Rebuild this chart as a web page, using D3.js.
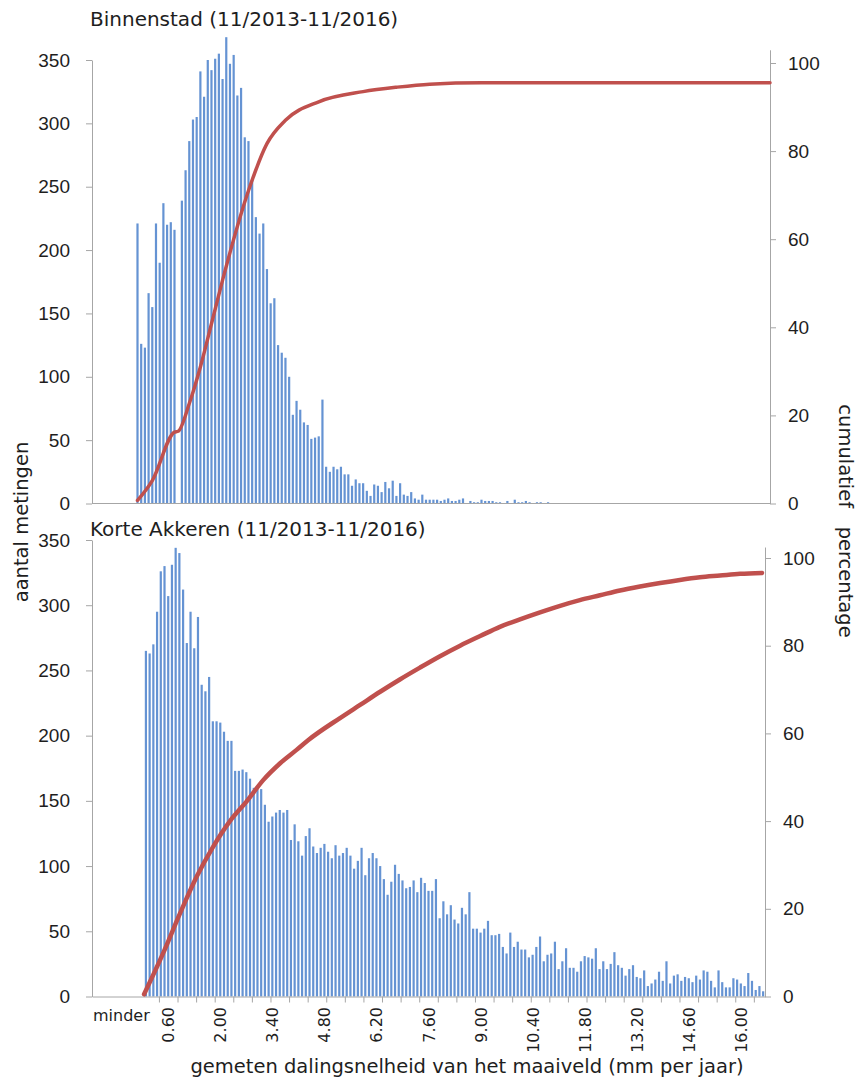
<!DOCTYPE html>
<html>
<head>
<meta charset="utf-8">
<script src="https://cdn.jsdelivr.net/npm/d3@7"></script>
<style>
  body { margin: 0; background: #fff; }
  svg { display: block; }
</style>
</head>
<body>
<svg width="863" height="1077"></svg>
<script>
// counts per 0.1 mm/jaar bin
const binnenstadFirstBin = -0.2;
const binnenstadCounts = [
    221, 126, 123, 166, 155, 221, 190, 237, 220, 222,
    216, 0, 239, 263, 286, 303, 305, 341, 321, 350,
    342, 351, 355, 335, 368, 347, 354, 322, 328, 289,
    286, 255, 226, 213, 221, 185, 158, 162, 125, 119,
    115, 100, 70, 81, 74, 64, 62, 51, 52, 53,
    82, 29, 25, 29, 27, 29, 23, 23, 14, 19,
    16, 16, 10, 6, 15, 14, 9, 17, 12, 18,
    6, 16, 7, 6, 9, 4, 3, 7, 3, 3,
    3, 3, 2, 3, 4, 2, 2, 3, 4, 0,
    2, 1, 1, 3, 2, 2, 2, 1, 1, 0,
    2, 0, 3, 1, 1, 2, 1, 0, 1, 1,
    0, 1
];
const binnenstadCumBins = [-0.2, 0.2, 0.8, 0.9, 1.2, 1.5, 1.8, 2.1, 2.8, 3.3, 3.8, 4.7, 5.9, 6.8, 7.7, 9.1, 16.9];
const binnenstadCumPct = [0.7, 5.2, 16.2, 16.4, 22.7, 31, 40.8, 50.7, 71, 81.7, 87, 91.2, 93.5, 94.5, 95.2, 95.5, 95.5];

const korteFirstBin = 0.0;
const korteCounts = [
    265, 263, 270, 295, 326, 330, 307, 331, 344, 340,
    312, 271, 295, 267, 291, 239, 234, 245, 211, 211,
    210, 203, 196, 196,
    173, 173, 174, 172, 167, 160, 159, 159, 147, 134,
    138, 141, 143, 141, 143,
    120, 132, 119, 108, 123, 129, 115, 110, 114, 117,
    111, 106, 116, 108, 110, 114, 108, 98, 104, 114,
    93, 106, 110, 106,
    100, 90, 78, 88, 101, 94, 89, 83, 84, 89,
    80, 91, 87, 81, 81, 90, 60, 73, 63, 70,
    59, 56, 68, 63, 80,
    52, 52, 49, 52, 58, 47, 47, 48, 38, 33,
    49, 38, 42, 36, 36, 30, 32, 38, 46, 27,
    32, 33, 42,
    21, 27, 37, 22, 22, 19, 27, 31, 30, 29,
    37, 21, 27, 21, 25, 34, 24, 22, 16, 21,
    24, 15, 14, 20, 8, 10, 13,
    19, 12, 27, 10, 16, 17, 12, 15, 14, 11,
    16, 13, 20, 19, 12, 7, 20, 11, 7, 7,
    14, 13, 10, 8, 18, 12, 5, 8, 4
];
const korteCumBins = [-0.05, 0.47, 0.92, 1.37, 1.81, 2.26, 2.71, 3.16, 3.61, 4.06, 4.37, 5.22, 5.76, 6.3, 6.83,
    7.37, 7.91, 8.45, 8.99, 9.52, 10.06, 10.6, 11.14, 11.67, 12.21, 12.75, 13.29, 13.83, 14.36, 14.9, 15.44, 15.98, 16.57];
const korteCumPct = [0.5, 10, 19, 27.4, 34.2, 40, 44.5, 49.4, 53.2, 56.3, 58.5, 63.5, 66.5, 69.5, 72.3,
    75, 77.6, 80, 82.2, 84.3, 86, 87.6, 89.1, 90.4, 91.5, 92.6, 93.5, 94.3, 95, 95.6, 96, 96.4, 96.6];

const countTicks = [0, 50, 100, 150, 200, 250, 300, 350];
const pctTicks = [0, 20, 40, 60, 80, 100];
const xTickLabels = ['0.60', '2.00', '3.40', '4.80', '6.20', '7.60', '9.00', '10.40', '11.80', '13.20', '14.60', '16.00'];

const TEXT_FONT = '"DejaVu Sans", Verdana, sans-serif';
const NUM_FONT = '"Liberation Sans", Arial, sans-serif';
const BAR_COLOR = '#6593d3';
const LINE_COLOR = '#c0504d';
const AXIS_COLOR = '#a6a6a6';
const TEXT_COLOR = '#1e1e1e';

const svg = d3.select('svg');

const styleAxis = (g) => {
    g.select('.domain').attr('stroke', AXIS_COLOR);
    g.selectAll('.tick line').attr('stroke', AXIS_COLOR);
    g.selectAll('.tick text')
        .attr('fill', TEXT_COLOR)
        .style('font-family', NUM_FONT)
        .style('font-size', '19px');
};

const drawPanel = (p) => {
    const g = svg.append('g');
    const x = d3.scaleLinear().domain(p.xDomain).range([p.left, p.right]);
    const yCount = d3.scaleLinear().domain([0, 350]).range([p.base, p.top350]);
    const yPct = d3.scaleLinear().domain([0, 100]).range([p.base, p.top100]);

    // bars
    g.append('g')
        .selectAll('rect')
        .data(p.counts)
        .join('rect')
        .attr('x', (d, i) => x(p.firstBin + i * 0.1) - 1.1)
        .attr('width', 2.2)
        .attr('y', d => yCount(d))
        .attr('height', d => p.base - yCount(d))
        .attr('fill', BAR_COLOR);

    // left axis
    g.append('g')
        .attr('transform', `translate(${p.left},0)`)
        .call(d3.axisLeft(yCount).tickValues(countTicks).tickSize(6).tickSizeOuter(0).tickPadding(16))
        .call(styleAxis);

    // right axis, line runs a little above 100
    const yPctAxis = yPct.copy().domain([0, p.pctMax]).range([p.base, yPct(p.pctMax)]);
    g.append('g')
        .attr('transform', `translate(${p.right},0)`)
        .call(d3.axisRight(yPctAxis).tickValues(pctTicks).tickSize(6).tickSizeOuter(0).tickPadding(12))
        .call(styleAxis);

    // baseline / category axis
    if (p.tickBounds) {
        g.append('g')
            .attr('transform', `translate(0,${p.base})`)
            .call(d3.axisBottom(x).tickValues(p.tickBounds).tickFormat('').tickSize(6).tickSizeOuter(0))
            .call(styleAxis);
    } else {
        g.append('line')
            .attr('x1', p.left).attr('x2', p.right)
            .attr('y1', p.base).attr('y2', p.base)
            .attr('stroke', AXIS_COLOR);
    }

    // cumulative line
    const line = d3.line()
        .x(d => x(d[0]))
        .y(d => yPct(d[1]))
        .curve(d3.curveMonotoneX);
    g.append('path')
        .datum(d3.zip(p.cumBins, p.cumPct))
        .attr('d', line)
        .attr('fill', 'none')
        .attr('stroke', LINE_COLOR)
        .attr('stroke-width', p.lineWidth)
        .attr('stroke-linecap', 'round');

    g.append('text')
        .text(p.title)
        .attr('x', 90)
        .attr('y', p.titleY)
        .attr('fill', TEXT_COLOR)
        .style('font-family', TEXT_FONT)
        .style('font-size', '20px');

    return x;
};

drawPanel({
    title: 'Binnenstad (11/2013-11/2016)',
    titleY: 26,
    counts: binnenstadCounts,
    firstBin: binnenstadFirstBin,
    cumBins: binnenstadCumBins,
    cumPct: binnenstadCumPct,
    xDomain: [-1.43, 16.9],
    left: 92, right: 770,
    base: 503.5, top350: 60, top100: 63, pctMax: 103,
    lineWidth: 3.5
});

const xBottom = drawPanel({
    title: 'Korte Akkeren (11/2013-11/2016)',
    titleY: 536,
    counts: korteCounts,
    firstBin: korteFirstBin,
    cumBins: korteCumBins,
    cumPct: korteCumPct,
    xDomain: [-1.45, 16.65],
    left: 92, right: 765,
    base: 996.5, top350: 540, top100: 558, pctMax: 102.5,
    lineWidth: 4.5,
    tickBounds: d3.range(0.35, 16.6, 0.5)
});

// rotated category labels under the lower chart
svg.append('g')
    .selectAll('text')
    .data(xTickLabels)
    .join('text')
    .text(d => d)
    .attr('transform', d => `translate(${xBottom(+d) + 6},1007) rotate(-90)`)
    .attr('text-anchor', 'end')
    .attr('fill', TEXT_COLOR)
    .style('font-family', TEXT_FONT)
    .style('font-size', '16px');

svg.append('text')
    .text('minder')
    .attr('x', 93)
    .attr('y', 1021)
    .attr('fill', TEXT_COLOR)
    .style('font-family', TEXT_FONT)
    .style('font-size', '16px');

svg.append('text')
    .text('gemeten dalingsnelheid van het maaiveld (mm per jaar)')
    .attr('x', 467)
    .attr('y', 1073)
    .attr('text-anchor', 'middle')
    .attr('fill', TEXT_COLOR)
    .style('font-family', TEXT_FONT)
    .style('font-size', '19.5px');

svg.append('text')
    .text('aantal metingen')
    .attr('transform', 'translate(28,522) rotate(-90)')
    .attr('text-anchor', 'middle')
    .attr('fill', TEXT_COLOR)
    .style('font-family', TEXT_FONT)
    .style('font-size', '19.5px');

svg.append('text')
    .text('cumulatief   percentage')
    .attr('transform', 'translate(839,521) rotate(90)')
    .attr('text-anchor', 'middle')
    .attr('fill', TEXT_COLOR)
    .style('white-space', 'pre')
    .style('font-family', TEXT_FONT)
    .style('font-size', '19.5px');
</script>
</body>
</html>
